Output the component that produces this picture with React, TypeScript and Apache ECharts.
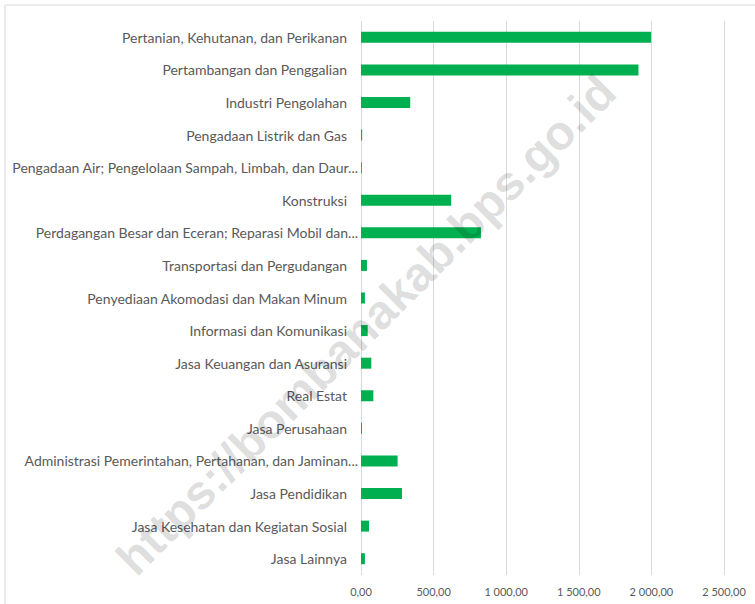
import React, { useEffect, useRef } from "react";
import * as echarts from "echarts";

const categories = [
  "Pertanian, Kehutanan, dan Perikanan",
  "Pertambangan dan Penggalian",
  "Industri Pengolahan",
  "Pengadaan Listrik dan Gas",
  "Pengadaan Air; Pengelolaan Sampah, Limbah, dan Daur...",
  "Konstruksi",
  "Perdagangan Besar dan Eceran; Reparasi Mobil dan...",
  "Transportasi dan Pergudangan",
  "Penyediaan Akomodasi dan Makan Minum",
  "Informasi dan Komunikasi",
  "Jasa Keuangan dan Asuransi",
  "Real Estat",
  "Jasa Perusahaan",
  "Administrasi Pemerintahan, Pertahanan, dan Jaminan...",
  "Jasa Pendidikan",
  "Jasa Kesehatan dan Kegiatan Sosial",
  "Jasa Lainnya",
];

const values = [1998, 1911, 339, 8, 6, 621, 826, 41, 27, 46, 71, 85, 7, 252, 282, 55, 27];

const xTicks = { min: 0, max: 2500, interval: 500 };

const watermark = "https://bombanakab.bps.go.id";

function fmt(v: number): string {
  const s = v.toFixed(2);
  const [ip, dp] = s.split(".");
  const withSep = ip.replace(/\B(?=(\d{3})+(?!\d))/g, " ");
  return withSep + "," + dp;
}

export default function App() {
  const ref = useRef<HTMLDivElement>(null);
  useEffect(() => {
    if (!ref.current) return;
    const chart = echarts.init(ref.current, undefined, { renderer: "svg" });
    const labelFont = "Lato, 'Noto Sans', sans-serif";
    chart.setOption({
      animation: false,
      backgroundColor: "#ffffff",
      grid: { left: 361, right: 31, top: 21, bottom: 29, containLabel: false },
      xAxis: {
        type: "value",
        min: xTicks.min,
        max: xTicks.max,
        interval: xTicks.interval,
        axisLine: { show: false },
        axisTick: { show: false },
        splitLine: { show: true, lineStyle: { color: "#d9d9d9", width: 1 } },
        axisLabel: {
          color: "#595959",
          fontSize: 11,
          fontFamily: labelFont,
          margin: 11,
          formatter: (v: number) => fmt(v),
        },
      },
      yAxis: {
        type: "category",
        data: categories,
        inverse: true,
        axisLine: { show: false },
        axisTick: { show: false },
        splitLine: { show: false },
        axisLabel: {
          margin: 3,
          formatter: (v: string) => (v.endsWith("...") ? `{t|${v}}` : `{n|${v}}`),
          rich: {
            n: { color: "#595959", fontSize: 14, fontFamily: labelFont, padding: [0, 11, 0, 0] },
            t: { color: "#595959", fontSize: 14, fontFamily: labelFont, padding: [0, 0, 0, 0] },
          },
        },
      },
      series: [
        {
          type: "bar",
          data: values,
          barWidth: 11,
          itemStyle: { color: "#00b050" },
          silent: true,
        },
      ],
      graphic: [
        {
          type: "rect",
          shape: { x: 5, y: 5, width: 800, height: 700 },
          style: { fill: "none", stroke: "#d9d9d9", lineWidth: 1 },
          silent: true,
          z: 0,
        },
        {
          type: "text",
          x: 366,
          y: 325,
          rotation: Math.PI / 4,
          z: 100,
          style: {
            text: watermark,
            fill: "rgba(0,0,0,0.14)",
            font: "bold 48px 'Liberation Sans', Arial, sans-serif",
            align: "center",
            verticalAlign: "middle",
          },
          silent: true,
        },
      ],
    });
    return () => chart.dispose();
  }, []);
  return <div ref={ref} style={{ width: 755, height: 604, position: "absolute", left: 0, top: 0 }} />;
}
